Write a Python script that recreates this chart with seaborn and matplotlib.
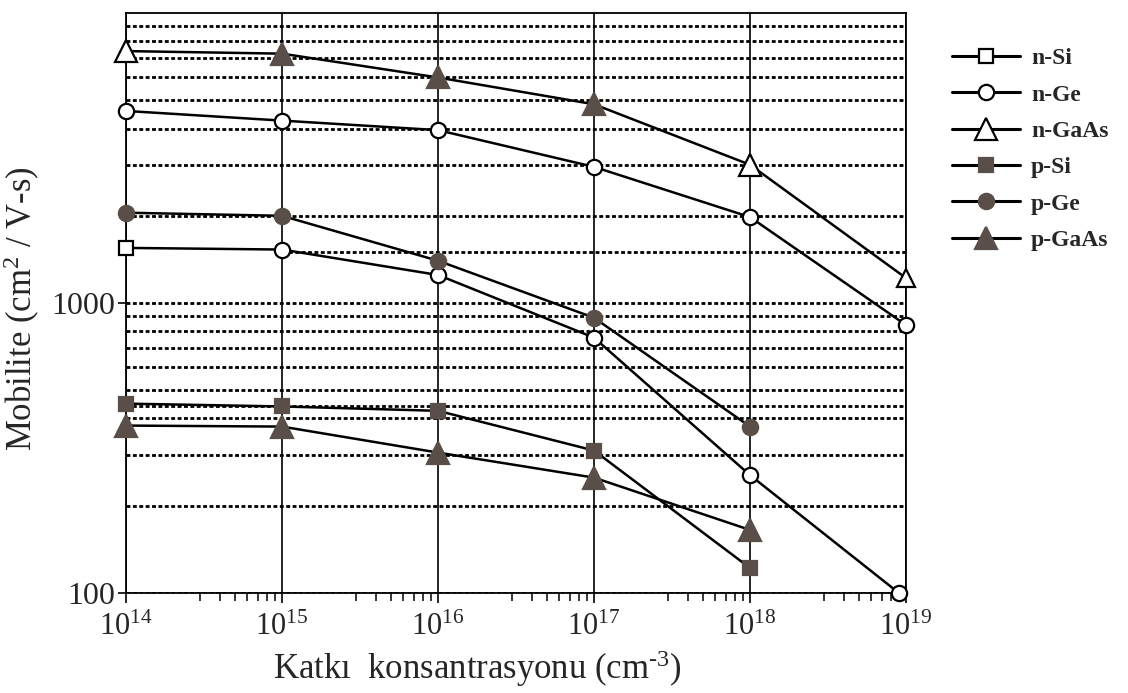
import matplotlib
matplotlib.use("Agg")
import matplotlib.pyplot as plt
import numpy as np
import pandas as pd
import seaborn as sns
from matplotlib.lines import Line2D
from matplotlib.ticker import LogLocator, NullFormatter, FixedLocator
from matplotlib.font_manager import FontProperties

# ---------------- data ----------------
conc = [1e14, 1e15, 1e16, 1e17, 1e18, 1e19]
conc_nsi = [1e14, 1e15, 1e16, 1e17, 1e18, 9e18]
conc_p = [1e14, 1e15, 1e16, 1e17, 1e18]

n_si = [1550, 1530, 1250, 760, 255, 100]
n_ge = [4600, 4260, 3950, 2950, 1980, 840]
n_gaas = [7400, 7250, 6000, 4850, 3000, 1220]
p_si = [450, 440, 425, 310, 122]
p_ge = [2050, 2000, 1400, 890, 375]
p_gaas = [378, 375, 305, 250, 165]

series_names = ["n-Si", "n-Ge", "n-GaAs", "p-Si", "p-Ge", "p-GaAs"]
x_tick_values = [1e14, 1e15, 1e16, 1e17, 1e18, 1e19]
y_tick_values = [100, 1000]
y_tick_labels = ["100", "1000"]
extra_grid_full = [440]
extra_grid_partial = [1500]          # drawn from 1e15 to 1e19 only
x_label = "Katkı  konsantrasyonu (cm$^{\\text{-3}}$)"
y_label = "Mobilite (cm$^{\\mathdefault{2}}$ / V-s)"

# ---------------- style ----------------
sns.set_theme(style="white")
plt.rcParams["font.family"] = ["Liberation Serif", "DejaVu Serif"]
plt.rcParams["mathtext.fontset"] = "custom"
plt.rcParams["mathtext.rm"] = "Liberation Serif"
plt.rcParams["mathtext.it"] = "Liberation Serif:italic"
plt.rcParams["mathtext.bf"] = "Liberation Serif:bold"
plt.rcParams["axes.unicode_minus"] = False

FILL = "#5a4f48"
LW = 1.8

frames = []
xs = [conc_nsi, conc, conc, conc_p, conc_p, conc_p]
ys = [n_si, n_ge, n_gaas, p_si, p_ge, p_gaas]
for name, x, y in zip(series_names, xs, ys):
    frames.append(pd.DataFrame({"conc": x, "mob": y, "series": name}))
df = pd.concat(frames, ignore_index=True)

fig = plt.figure(figsize=(11.28, 6.93), dpi=100)
ax = fig.add_axes([0.1117, 0.1443, 0.8032 - 0.1117, 0.981 - 0.1443])

sns.lineplot(data=df, x="conc", y="mob", hue="series", units="series",
             estimator=None, sort=False, palette={n: "black" for n in series_names},
             linewidth=LW, legend=False, ax=ax, zorder=3)

ax.set_xscale("log")
ax.set_yscale("log")
ax.set_xlim(1e14, 1e19)
ax.set_ylim(100, 10000)

# marker appearance per point (as drawn in the reference)
marker_specs = {
    "n-Si": [("s", False, 9.5)] + [("o", False, 11)] * 5,
    "n-Ge": [("o", False, 11)] * 6,
    "n-GaAs": [("^", False, 16), ("^", True, 16), ("^", True, 16),
               ("^", True, 16), ("^", False, 16), ("^", False, 13)],
    "p-Si": [("s", True, 9.5)] * 5,
    "p-Ge": [("o", True, 11)] * 5,
    "p-GaAs": [("^", True, 16)] * 5,
}
for name, x, y in zip(series_names, xs, ys):
    for xi, yi, (m, filled, ms) in zip(x, y, marker_specs[name]):
        ax.plot([xi], [yi], linestyle="none", marker=m, ms=ms,
                mfc=FILL if filled else "white", mec="black" if not filled else FILL,
                mew=1.6, zorder=5, clip_on=False)

# grid
GLW = 2.0
dotted = (0, (1.4, 0.9))
ax.xaxis.set_major_locator(FixedLocator(x_tick_values))
ax.xaxis.set_minor_locator(LogLocator(base=10, subs=[3, 4, 5, 6, 7, 8, 9], numticks=20))
ax.xaxis.set_minor_formatter(NullFormatter())
ax.yaxis.set_major_locator(FixedLocator(y_tick_values))
ax.set_yticklabels(y_tick_labels)
ax.yaxis.set_minor_locator(LogLocator(base=10, subs=list(range(2, 10)), numticks=20))
ax.yaxis.set_minor_formatter(NullFormatter())

ax.grid(True, axis="x", which="major", color="black", linewidth=1.2, linestyle="-")
ax.grid(True, axis="y", which="both", color="black", linewidth=GLW, linestyle=dotted)
for v in extra_grid_full:
    ax.axhline(v, color="black", linewidth=GLW, linestyle=dotted, zorder=1.5)
for v in extra_grid_partial:
    ax.plot([1e15, 1e19], [v, v], color="black", linewidth=GLW, linestyle=dotted, zorder=1.5)

for s in ax.spines.values():
    s.set_color("black")
    s.set_linewidth(1.3)
    s.set_visible(True)

ax.tick_params(axis="x", which="major", direction="out", length=7.5, width=1.2,
               color="black", labelsize=22, pad=7, bottom=True)
ax.tick_params(axis="x", which="minor", direction="out", length=6, width=1.1,
               color="black", bottom=True)
ax.tick_params(axis="y", which="major", direction="out", length=6, width=1.2,
               color="black", labelsize=23, pad=2, left=True)
ax.tick_params(axis="y", which="minor", length=0, left=False)

ax.set_xlabel(x_label, fontsize=25)
ax.set_ylabel(y_label, fontsize=25)
ax.xaxis.set_label_coords(0.451, -0.095)
ax.yaxis.set_label_coords(-0.108, 0.49)

# legend
handles = []
leg_specs = [("s", False, 9.5), ("o", False, 11), ("^", False, 16),
             ("s", True, 9.5), ("o", True, 11), ("^", True, 16)]
for (m, filled, ms) in leg_specs:
    handles.append(Line2D([0], [0], color="black", linewidth=2.2, marker=m, ms=ms,
                          mfc=FILL if filled else "white",
                          mec=FILL if filled else "black", mew=1.6))
fig.legend(handles, series_names, loc="upper left", bbox_to_anchor=(0.825, 0.962),
           frameon=False, prop=FontProperties(family="Liberation Serif", weight="bold", size=17),
           handlelength=2.9, handletextpad=0.45, labelspacing=0.63, borderpad=0.4)

fig.savefig("out.png", dpi=100, facecolor="white")
